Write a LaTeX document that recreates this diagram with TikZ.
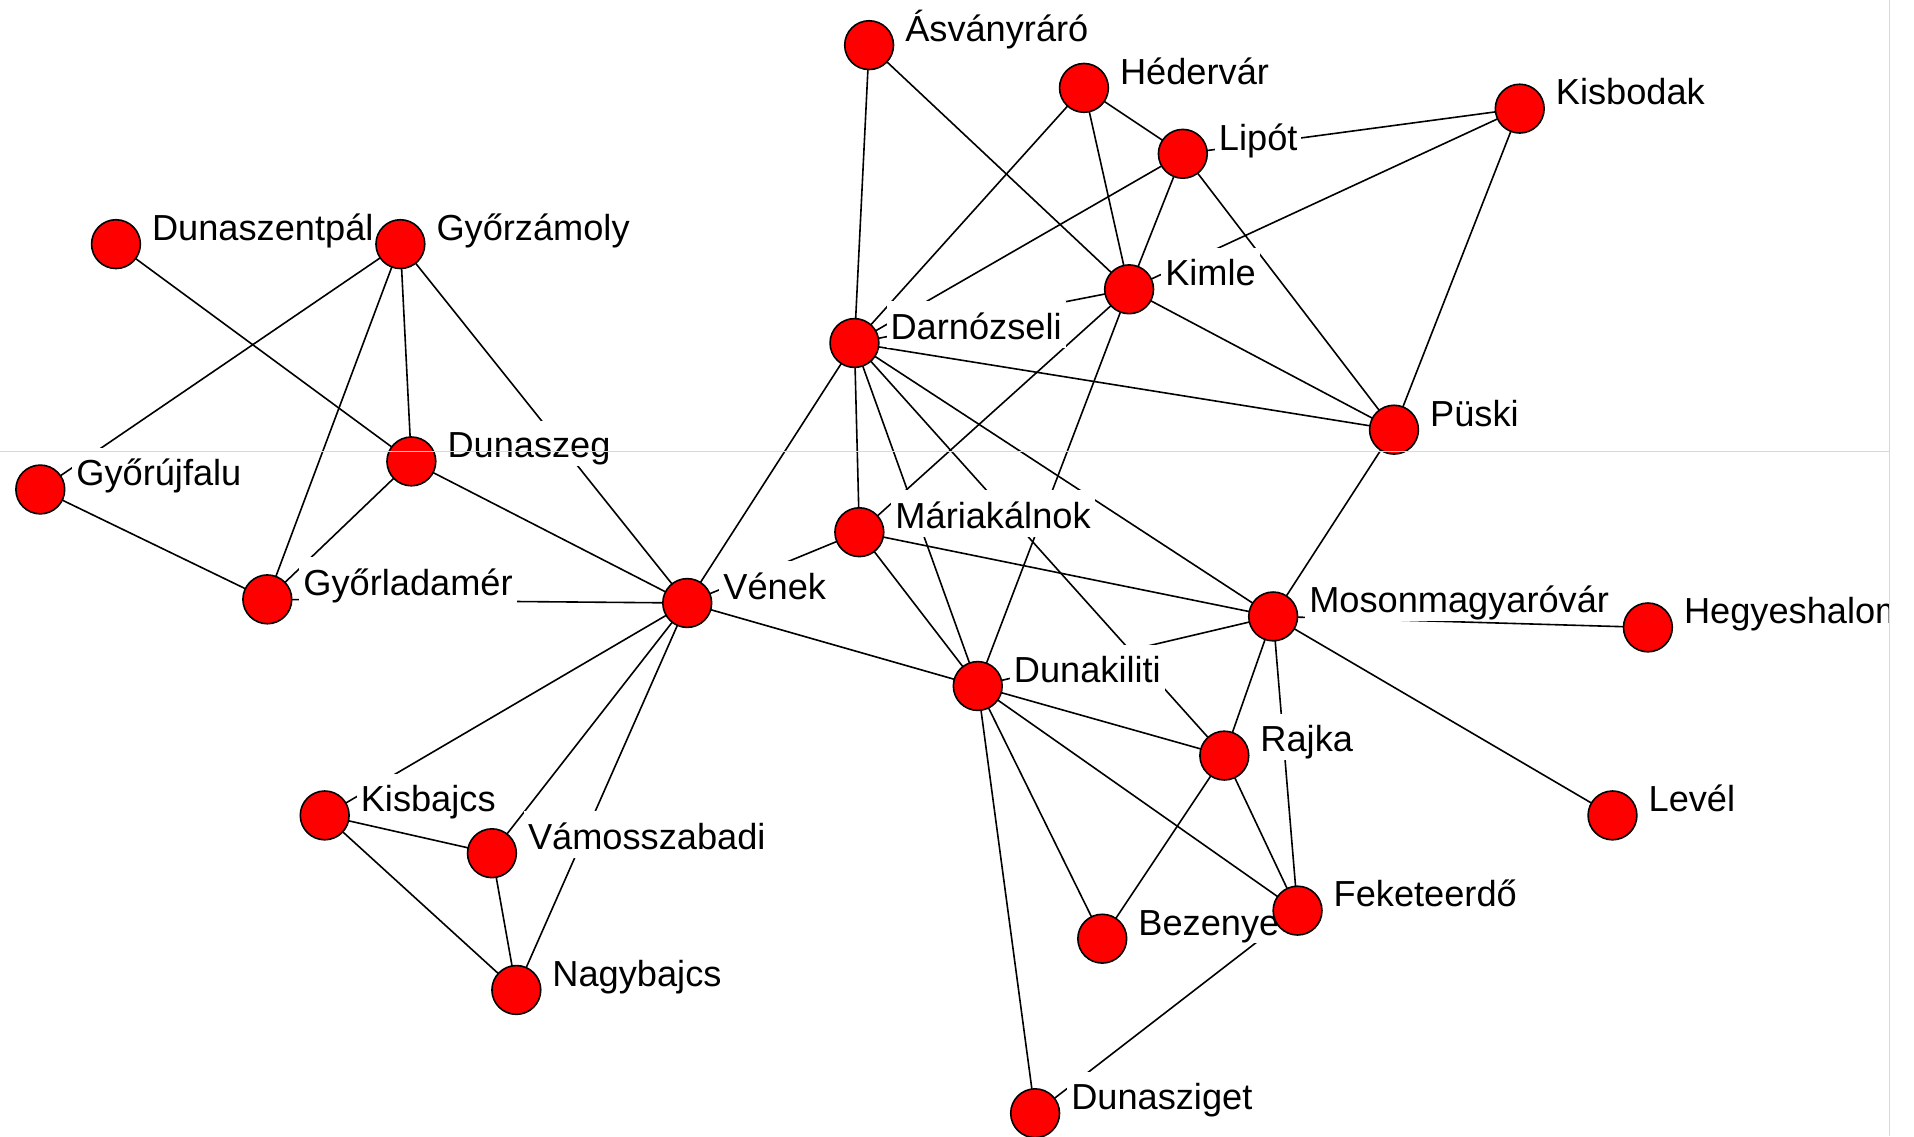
\documentclass[tikz,border=0pt]{standalone}
\usepackage{fontspec}
\setmainfont{Liberation Sans}
\definecolor{guideline}{RGB}{250,214,140}
\definecolor{vred}{RGB}{255,0,0}
\newcommand\lbltext[1]{\setbox0=\hbox{#1}\rule{0pt}{\dimexpr\ht0+5.8pt\relax}\box0}
\tikzset{
  vtx/.style={circle, draw=black, line width=0.8pt, fill=vred, minimum size=24.4pt, inner sep=0pt},
  lbl/.style={anchor=base west, fill=white, inner xsep=2pt, inner ysep=0pt,
              text depth=4.2pt,
              font=\fontsize{18.1}{22}\selectfont},
  edge/.style={draw=black, line width=0.8pt},
  guide/.style={draw=guideline, line width=0.6pt}
}
\begin{document}
\begin{tikzpicture}[x=0.61035pt, y=-0.61035pt]
\fill[white] (0,0) rectangle (1568,931);
\useasboundingbox (0,0) rectangle (1568,931);
\begin{scope}
\clip (0,0) rectangle (1548,931);
% vertex positions
\foreach \n/\x/\y in {asv/712/37, hed/888/72, lip/969/126, kbo/1245/89,
  dsp/95/200, gyz/328/200, kim/925/237, dar/700/281, pus/1142/352,
  gyu/33/401, dsz/337/378, mar/704/436, gyl/219/491, ven/563/494,
  mmo/1043/505, heg/1350/514, dki/801/562, raj/1003/619, kbj/266/668,
  vam/403/699, lev/1321/668, bez/903/769, fek/1063/746, nag/423/811,
  dsg/848/912}
  {\coordinate (\n) at (\x,\y);}
% connectors
\foreach \a/\b in {asv/dar, asv/kim, hed/lip, hed/kim, hed/dar,
  lip/kbo, lip/kim, lip/dar, lip/pus, kbo/kim, kbo/pus, kim/pus, kim/dar,
  kim/mar, kim/dki, dar/pus, dar/ven, dar/mar, dar/dki, dar/raj, dar/mmo,
  mar/mmo, mar/dki, mar/ven, ven/dki, ven/dsz, ven/gyl, ven/gyz, ven/kbj,
  ven/vam, ven/nag, dsp/dsz, gyz/dsz, gyz/gyu, gyz/gyl, dsz/gyl, gyu/gyl,
  kbj/vam, kbj/nag, vam/nag, mmo/pus, mmo/heg, mmo/lev, mmo/raj, mmo/fek,
  mmo/dki, dki/raj, dki/fek, dki/bez, dki/dsg, raj/fek, raj/bez, fek/dsg}
  {\draw[edge] (\a) -- (\b);}
% labels
\foreach \n/\t in {asv/Ásványráró, hed/Hédervár, lip/Lipót, kbo/Kisbodak,
  dsp/Dunaszentpál, gyz/Győrzámoly, kim/Kimle, dar/Darnózseli, pus/Püski,
  gyu/Győrújfalu, dsz/Dunaszeg, mar/Máriakálnok, gyl/Győrladamér, ven/Vének,
  mmo/Mosonmagyaróvár, heg/Hegyeshalom, dki/Dunakiliti, raj/Rajka,
  kbj/Kisbajcs, vam/Vámosszabadi, lev/Levél, bez/Bezenye, fek/Feketeerdő,
  nag/Nagybajcs, dsg/Dunasziget}
  {\node[lbl] (\n-l) at ([shift={(26,-3)}]\n) {\lbltext{\t}};}
% vertices
\foreach \n in {asv, hed, lip, kbo, dsp, gyz, kim, dar, pus, gyu, dsz, mar,
  gyl, ven, mmo, heg, dki, raj, kbj, vam, lev, bez, fek, nag, dsg}
  {\node[vtx] (\n-v) at (\n) {};}
\end{scope}
% guide lines
\draw[guide] (0,370) -- (1548,370);
\draw[guide] (1548,0) -- (1548,931);
\end{tikzpicture}
\end{document}
